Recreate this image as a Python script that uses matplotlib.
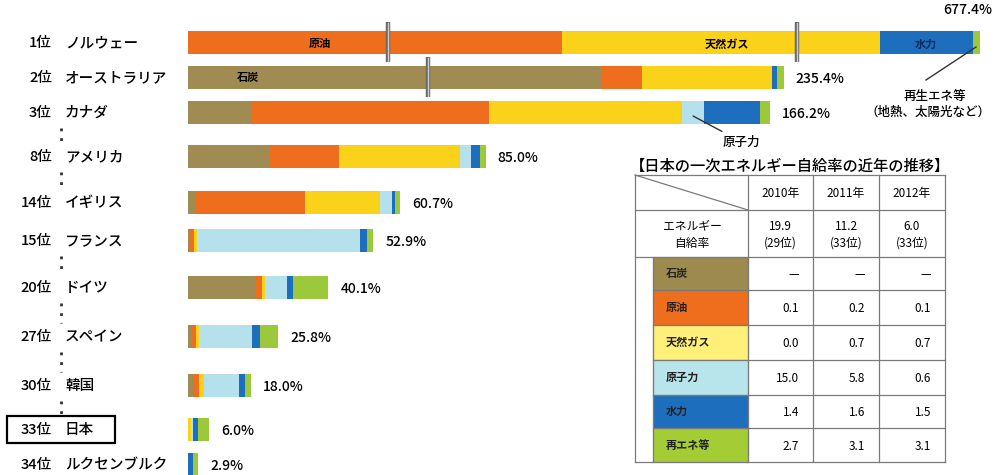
import matplotlib.pyplot as plt
from matplotlib.patches import Rectangle

plt.rcParams['font.family'] = ['Noto Sans CJK JP', 'DejaVu Sans']

# 主要国の一次エネルギー自給率（%）と内訳
ranks = ['1位', '2位', '3位', '8位', '14位', '15位', '20位', '27位', '30位', '33位', '34位']
countries = ['ノルウェー', 'オーストラリア', 'カナダ', 'アメリカ', 'イギリス', 'フランス',
             'ドイツ', 'スペイン', '韓国', '日本', 'ルクセンブルク']
totals = [677.4, 235.4, 166.2, 85.0, 60.7, 52.9, 40.1, 25.8, 18.0, 6.0, 2.9]

sources = ['石炭', '原油', '天然ガス', '原子力', '水力', '再エネ等']
coal    = [0.0, 183.5, 18.2, 23.2, 2.2, 0.3, 19.3, 1.2, 1.5, 0.0, 0.0]
oil     = [300.0, 11.4, 67.8, 19.8, 31.2, 1.3, 1.7, 1.2, 1.6, 0.1, 0.0]
gas     = [348.8, 37.1, 55.1, 34.6, 21.5, 1.0, 1.1, 0.8, 1.5, 0.7, 0.0]
nuclear = [0.0, 0.0, 6.4, 3.2, 3.4, 46.6, 6.1, 15.1, 10.1, 0.6, 0.0]
hydro   = [26.6, 1.4, 15.8, 2.5, 0.8, 1.8, 1.9, 2.4, 1.6, 1.5, 1.3]
renew   = [2.0, 2.0, 2.9, 1.7, 1.6, 1.9, 10.0, 5.1, 1.7, 3.1, 1.6]

# 省略部分（開始位置, 省略量）
breaks = {'ノルウェー': [(57.1, 193.1), (367.1, 258.0)],
          'オーストラリア': [(68.6, 65.2)]}

# 日本の推移表
years = ['2010年', '2011年', '2012年']
jp_rate = [19.9, 11.2, 6.0]
jp_rank = [29, 33, 33]
jp_coal = [None, None, None]
jp_oil = [0.1, 0.2, 0.1]
jp_gas = [0.0, 0.7, 0.7]
jp_nuclear = [15.0, 5.8, 0.6]
jp_hydro = [1.4, 1.6, 1.5]
jp_renew = [2.7, 3.1, 3.1]

colors = ['#a08c52', '#ee6e1e', '#fad21a', '#b4e1eb', '#1e6ebe', '#9cc83c']
cell_colors = ['#9c8a4e', '#ee6e1e', '#fff07a', '#b8e4ec', '#1e6ebe', '#a4cc34']

W, H = 1007, 475
px = 3.5          # 1% あたりのピクセル
x0 = 188
row_y = [42, 77, 112, 156, 202, 240, 287, 336, 385, 429, 464]


def shown(v, cuts):
    d = v
    for s, l in cuts:
        if v > s:
            d -= min(v - s, l)
    return d


fig = plt.figure(figsize=(W / 100, H / 100), dpi=100)
ax = fig.add_axes([x0 / W, 0, (W - x0) / W, 1])
ax.set_xlim(0, (W - x0) / px)
ax.set_ylim(H, 0)
ax.axis('off')

ov = fig.add_axes([0, 0, 1, 1], zorder=3)
ov.set_xlim(0, W)
ov.set_ylim(H, 0)
ov.axis('off')

series = [coal, oil, gas, nuclear, hydro, renew]
for i, name in enumerate(countries):
    cuts = breaks.get(name, [])
    start = 0
    for vals, col in zip(series, colors):
        v = vals[i]
        if v <= 0:
            continue
        a, b = shown(start, cuts), shown(start + v, cuts)
        ax.barh(row_y[i], b - a, left=a, height=23, color=col, edgecolor='none')
        start += v
    for s, l in cuts:
        d = shown(s, cuts)
        ax.plot([d, d], [row_y[i] - 20, row_y[i] + 20], color='#6a6a6a', lw=3.2,
                solid_capstyle='butt')
        ax.plot([d, d], [row_y[i] - 19, row_y[i] + 19], color='#cfcfcf', lw=1)
    end = shown(totals[i], cuts)
    if i == 0:
        ov.text(968, 10, f'{totals[i]:.1f}%', ha='center', va='center', fontsize=10,
                weight='medium')
    else:
        ax.annotate(f'{totals[i]:.1f}%', (end, row_y[i] + 2), xytext=(12, 0),
                    textcoords='offset pixels', ha='left', va='center', fontsize=10,
                    weight='medium')

# 左側の順位と国名
for i in range(len(countries)):
    ov.text(52, row_y[i] + 1, ranks[i], ha='right', va='center', fontsize=10.5,
            weight='medium')
    ov.text(65, row_y[i] + 1, countries[i], ha='left', va='center', fontsize=10.5,
            weight='medium')
ov.add_patch(Rectangle((7, 416), 108, 27, fill=False, lw=1.6, ec='black'))

for a, b in [(2, 3), (3, 4), (5, 6), (6, 7), (7, 8), (8, 9)]:
    ov.plot([61, 61], [row_y[a] + 16, row_y[b] - 13], color='#333333', lw=2,
            linestyle=(0, (1, 2.5)))

# バー上の表示
ov.text(320, 43, '原油', ha='center', va='center', fontsize=8, weight='bold')
ov.text(727, 44, '天然ガス', ha='center', va='center', fontsize=8, weight='bold')
ov.text(926, 44, '水力', ha='center', va='center', fontsize=8, weight='bold', color='#0c2d5c')
ov.text(248, 78, '石炭', ha='center', va='center', fontsize=8, weight='bold')

# 注記
ov.plot([926, 976], [80, 47], color='#333333', lw=1)
ov.text(935, 96, '再生エネ等', ha='center', va='center', fontsize=9, weight='medium')
ov.text(928, 112, '（地熱、太陽光など）', ha='center', va='center', fontsize=9,
        weight='medium')
nuc_left = coal[2] + oil[2] + gas[2]
ax.annotate('原子力', (nuc_left + nuclear[2] / 2, row_y[2] + 4), xytext=(30, -26),
            textcoords='offset pixels', ha='left', va='center', fontsize=9, weight='medium',
            arrowprops=dict(arrowstyle='-', color='#333333', lw=1, shrinkA=2, shrinkB=0))

# 日本の一次エネルギー自給率の推移表
ov.text(790, 166, '【日本の一次エネルギー自給率の近年の推移】', ha='center', va='center',
        fontsize=11, weight='medium')
col_x = [635, 748, 813, 879, 945]
row_lines = [175, 210, 257, 290, 325, 360, 395, 428, 462]
lc = '#7a7a7a'
jp_rows = [jp_coal, jp_oil, jp_gas, jp_nuclear, jp_hydro, jp_renew]
for k in range(6):
    top, bot = row_lines[k + 2], row_lines[k + 3]
    ov.add_patch(Rectangle((653, top), 748 - 653, bot - top, fc=cell_colors[k],
                           ec=lc, lw=0.8))
    ov.text(666, (top + bot) / 2, sources[k], ha='left', va='center', fontsize=8,
            weight='bold', color='#222222')
    for j in range(3):
        v = jp_rows[k][j]
        ov.text(col_x[j + 2] - 14, (top + bot) / 2 + 1, '—' if v is None else f'{v:.1f}',
                ha='right', va='center', fontsize=8.5)
for y in row_lines:
    left = 635 if y in (175, 210, 257, 462) else 653
    ov.plot([left, 945], [y, y], color=lc, lw=0.9)
for x in col_x:
    ov.plot([x, x], [175, 462], color=lc, lw=0.9)
ov.plot([653, 653], [257, 462], color=lc, lw=0.9)
ov.plot([635, 748], [175, 210], color=lc, lw=0.9)
for j in range(3):
    cx = (col_x[j + 1] + col_x[j + 2]) / 2
    ov.text(cx, 193, years[j], ha='center', va='center', fontsize=8.5)
    ov.text(cx, 226, f'{jp_rate[j]:.1f}', ha='center', va='center', fontsize=8.5)
    ov.text(cx, 243, f'({jp_rank[j]}位)', ha='center', va='center', fontsize=8.5)
ov.text(692, 226, 'エネルギー', ha='center', va='center', fontsize=8.5)
ov.text(692, 243, '自給率', ha='center', va='center', fontsize=8.5)

fig.savefig('out.png', dpi=100)
